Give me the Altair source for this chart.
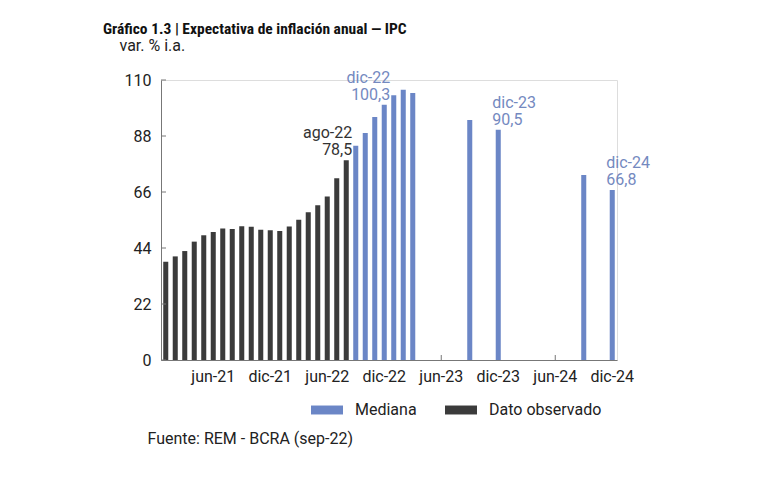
import altair as alt
import pandas as pd

# ---- data ----
abbr = ["ene", "feb", "mar", "abr", "may", "jun", "jul", "ago", "sep", "oct", "nov", "dic"]
meses = [f"{m}-{y}" for y in ["21", "22", "23", "24"] for m in abbr]

obs_meses = meses[:20]  # ene-21 .. ago-22
obs_valores = [38.6, 40.7, 42.8, 46.5, 49.0, 50.3, 51.7, 51.5, 52.5, 52.3,
               51.2, 51.0, 50.7, 52.4, 55.1, 58.0, 60.8, 64.2, 71.4, 78.5]

med_meses = ["sep-22", "oct-22", "nov-22", "dic-22", "ene-23", "feb-23", "mar-23",
             "sep-23", "dic-23", "sep-24", "dic-24"]
med_valores = [84.2, 89.2, 95.5, 100.3, 104.0, 106.2, 104.9, 94.3, 90.5, 72.7, 66.8]

series = ["Mediana", "Dato observado"]
colores = ["#6b86c6", "#3b3b3b"]
colores_txt = ["#7489bf", "#333333"]

y_ticks = [0, 22, 44, 66, 88, 110]
x_ticks = ["jun-21", "dic-21", "jun-22", "dic-22", "jun-23", "dic-23", "jun-24", "dic-24"]

etiquetas_der = ["ago-22", "dic-22"]
etiquetas_izq = ["dic-23", "dic-24"]

rows = [{"mes": m, "valor": v, "serie": "Dato observado"} for m, v in zip(obs_meses, obs_valores)]
rows += [{"mes": m, "valor": v, "serie": "Mediana"} for m, v in zip(med_meses, med_valores)]
df = pd.DataFrame(rows)
df["etiqueta"] = df["mes"] + "\n" + df["valor"].map(lambda v: f"{v:.1f}".replace(".", ","))

FONT = "Roboto"
AXC = "#777777"

x_enc = alt.X(
    "mes:O",
    sort=meses,
    scale=alt.Scale(domain=meses, paddingInner=0.47, paddingOuter=0.235),
    axis=alt.Axis(
        values=x_ticks, labelAngle=0, ticks=False, domainColor=AXC, labelPadding=8,
        labelFont=FONT, labelFontSize=16, labelColor="#222222",
        title="Fuente: REM - BCRA (sep-22)", titleX=-14, titleY=83, titleAlign="left",
        titleBaseline="alphabetic", titleFont=FONT, titleFontSize=16,
        titleFontWeight="normal", titleColor="#222222",
    ),
)
y_enc = alt.Y(
    "valor:Q",
    scale=alt.Scale(domain=[0, 110], nice=False, zero=True),
    axis=alt.Axis(
        values=y_ticks, ticks=False, grid=False, domainColor=AXC, labelPadding=10,
        labelFont=FONT, labelFontSize=16, labelColor="#222222",
        title="var. % i.a.", titleAngle=0, titleX=-42, titleY=-30, titleAlign="left",
        titleBaseline="alphabetic", titleFont=FONT, titleFontSize=16,
        titleFontWeight="normal", titleColor="#222222",
    ),
)

base = alt.Chart(df)

bars = base.mark_bar().encode(
    x=x_enc,
    y=y_enc,
    color=alt.Color(
        "serie:N",
        scale=alt.Scale(domain=series, range=colores),
        legend=alt.Legend(
            title=None, orient="none", legendX=158, legendY=322, direction="horizontal",
            columns=2, symbolType="M-2,-0.56H2V0.56H-2Z", symbolSize=256,
            symbolStrokeWidth=0, labelOffset=20, columnPadding=28,
            labelFont=FONT, labelFontSize=16, labelColor="#222222",
        ),
    ),
)

txt_color = alt.Color("serie:N", scale=alt.Scale(domain=series, range=colores_txt), legend=None)

lab_der = base.transform_filter(
    alt.FieldOneOfPredicate(field="mes", oneOf=etiquetas_der)
).mark_text(align="right", baseline="bottom", dx=6, dy=-19, lineBreak="\n", lineHeight=17,
            font=FONT, fontSize=16).encode(x=x_enc, y=y_enc, text="etiqueta:N", color=txt_color)

lab_izq = base.transform_filter(
    alt.FieldOneOfPredicate(field="mes", oneOf=etiquetas_izq)
).mark_text(align="left", baseline="bottom", dx=-6, dy=-19, lineBreak="\n", lineHeight=17,
            font=FONT, fontSize=16).encode(x=x_enc, y=y_enc, text="etiqueta:N", color=txt_color)

ytick_rules = alt.Chart(pd.DataFrame({"valor": y_ticks})).mark_rule(color=AXC).encode(
    y=y_enc, x=alt.value(0), x2=alt.value(5)
)
xtick_rules = alt.Chart(pd.DataFrame({"mes": x_ticks})).mark_rule(color=AXC).encode(
    x=x_enc, y=alt.value(280), y2=alt.value(275)
)

chart = (
    alt.layer(xtick_rules, bars, ytick_rules, lab_der, lab_izq)
    .resolve_scale(color="independent")
    .properties(
        width=456,
        height=280,
        autosize=alt.AutoSizeParams(type="none"),
        padding={"left": 153, "top": 72, "right": 143, "bottom": 118},
        title=alt.TitleParams(
            "Gráfico 1.3 | Expectativa de inflación anual — IPC",
            anchor="start", frame="group", dx=-58, offset=-12,
            font="Liberation Sans Narrow, Roboto Condensed, DejaVu Sans Condensed, Roboto",
            fontSize=15.5, fontWeight="bold", color="#111111", baseline="alphabetic",
        ),
    )
    .configure_view(stroke=None)
    .configure(background="white")
)

chart.save("out.html", embed_options={"renderer": "svg", "actions": False})
